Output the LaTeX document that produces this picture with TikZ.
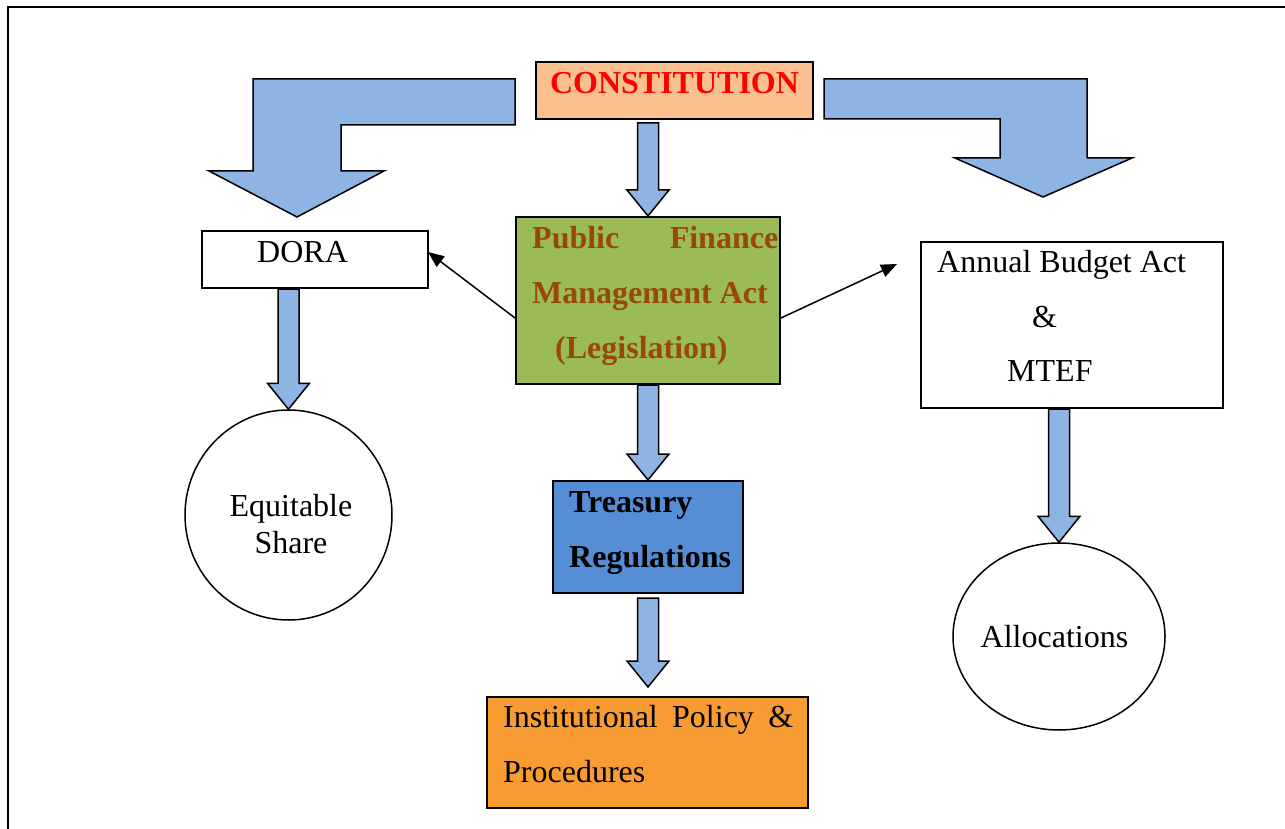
\documentclass[tikz,border=0pt]{standalone}
\usepackage{fontspec}
\setmainfont{Liberation Serif}
\usetikzlibrary{arrows.meta, positioning, calc, shapes.geometric}

\definecolor{peach}{HTML}{FAC090}
\definecolor{actgreen}{HTML}{9BBB59}
\definecolor{actbrown}{HTML}{984807}
\definecolor{arrowblue}{HTML}{8EB4E3}
\definecolor{treasblue}{HTML}{558ED5}
\definecolor{instorange}{HTML}{F99B33}

% 竖直粗箭头: #1 起点, #2 箭尖
\newcommand{\blockarrow}[2]{%
  \draw[block arrow] let \p1=#1, \p2=#2 in
    (\x2-10.5pt,\y1) -- (\x2+10.5pt,\y1) -- (\x2+10.5pt,\y2+26pt)
    -- (\x2+21pt,\y2+26pt) -- (\x2,\y2) -- (\x2-21pt,\y2+26pt)
    -- (\x2-10.5pt,\y2+26pt) -- cycle;
}

\begin{document}
\begin{tikzpicture}[x=1pt, y=-1pt,
    box/.style={draw, line width=2pt, inner sep=0pt},
    round/.style={draw, ellipse, line width=1.5pt, inner sep=0pt},
    txt/.style={inner sep=0pt, font=\fontsize{32}{55}\selectfont},
    bold txt/.style={inner sep=0pt, font=\fontsize{32}{55}\selectfont\bfseries},
    block arrow/.style={draw, fill=arrowblue, line width=1.5pt},
    thin arrow/.style={line width=1.5pt, -{Triangle[length=16pt, width=13pt]}},
    frame/.style={line width=2.5pt}
]
\useasboundingbox (0,0) rectangle (1285,829);

% 外框
\draw[frame] (8,829) -- (8,7) -- (1285,7);

% 方框
\node[box, fill=peach, minimum width=277, minimum height=57] (const) at (674.5,90.5) {};
\node[box, fill=actgreen, minimum width=264, minimum height=167] (pfma) at (648,300.5) {};
\node[box, fill=white, minimum width=226, minimum height=57] (dora) at (315,259.5) {};
\node[box, fill=white, minimum width=302, minimum height=166] (annual) at (1072,325) {};
\node[box, fill=treasblue, minimum width=190, minimum height=112] (treas) at (648,537) {};
\node[box, fill=instorange, minimum width=321, minimum height=111] (inst) at (647.5,752.5) {};

% 圆
\node[round, minimum width=207, minimum height=210] (eq) at (288.5,515) {};
\node[round, minimum width=212, minimum height=187] (alloc) at (1059,636.5) {};

% 文字
\node[bold txt, anchor=base, text=red] (constT) at (674.5,94) {CONSTITUTION};
\node[bold txt, anchor=base west, text width=246, align=flush left, text=actbrown] (pfmaT) at (532,248)
    {Public\hfill Finance\\Management Act\\\hspace*{23pt}(Legislation)};
\node[txt, anchor=base west] (doraT) at (257,262) {DORA};
\node[txt, anchor=base west, text width=280, align=flush left] (annualT) at (937,272)
    {Annual Budget Act\\\hspace*{95pt}\&\\\hspace*{70pt}MTEF};
\node[bold txt, anchor=base west, text width=170, align=flush left] (treasT) at (569,512) {Treasury\\Regulations};
\node[txt, anchor=base west, text width=290, align=flush left] (instT) at (503,727)
    {Institutional\hfill Policy\hfill\&\\Procedures};
\node[txt, anchor=base, text width=160, align=center, font=\fontsize{32}{37}\selectfont] (eqT) at (291,516)
    {Equitable\\Share};
\node[txt, anchor=base] (allocT) at (1054.5,647) {Allocations};

% 弯箭头
\draw[block arrow] (515,79) -- (253,79) -- (253,171) -- (209,171) -- (297,217)
    -- (384,171) -- (341,171) -- (341,125) -- (515,125) -- cycle;
\draw[block arrow] (824,79) -- (1087,79) -- (1087,158) -- (1132,158) -- (1043,197)
    -- (955,158) -- (1000,158) -- (1000,119) -- (824,119) -- cycle;

% 竖直箭头
\blockarrow{($(pfma.north |- const.south)+(0,3)$)}{(pfma.north)}
\blockarrow{(eq.north |- dora.south)}{(eq.north)}
\blockarrow{(treas.north |- pfma.south)}{(treas.north)}
\blockarrow{($(treas.south)+(0,4)$)}{($(treas.south |- inst.north)+(0,-9)$)}
\blockarrow{(alloc.north |- annual.south)}{(alloc.north)}

% 细箭头
\draw[thin arrow] ($(pfma.west)+(0,17.5)$) -- ($(dora.east)+(-1,-7.5)$);
\draw[thin arrow] ($(pfma.east)+(0,17.5)$) -- ($(annual.west)+(-23,-61)$);
\end{tikzpicture}
\end{document}
